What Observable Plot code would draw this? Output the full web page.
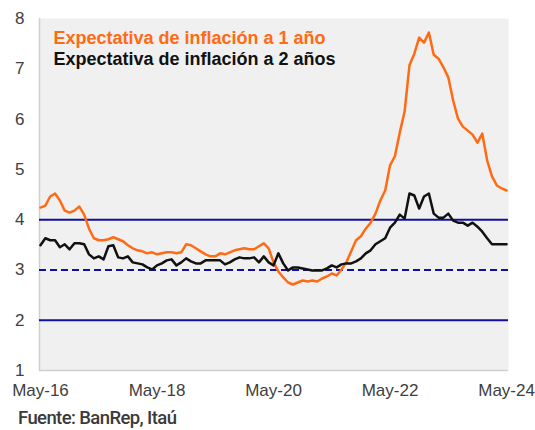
<!DOCTYPE html>
<html><head><meta charset="utf-8">
<script src="https://cdn.jsdelivr.net/npm/d3@7"></script>
<script src="https://cdn.jsdelivr.net/npm/@observablehq/plot@0.6"></script>
<style>
body{margin:0;background:#fff;font-family:"Liberation Sans",Arial,sans-serif}
#cap{font-family:Roboto,sans-serif;font-weight:500;font-size:18.5px;color:#3a3a3a;letter-spacing:-0.6px;margin:3px 0 0 18px;line-height:20px}
</style>
</head><body><div id="chart"></div><div id="cap">Fuente: BanRep, Itaú</div>
<script>
// Monthly observations, May-16 .. May-24 (index 0..96)
const oneYear = [
4.24,4.28,4.46,4.52,4.38,4.18,4.14,4.18,4.26,4.10,3.82,3.63,3.59,3.59,3.61,3.65,3.61,3.57,3.49,3.43,
3.39,3.37,3.33,3.35,3.31,3.33,3.35,3.35,3.33,3.35,3.51,3.49,3.43,3.37,3.31,3.27,3.27,3.33,3.31,3.35,
3.39,3.41,3.43,3.41,3.41,3.47,3.53,3.43,3.15,2.97,2.85,2.75,2.71,2.75,2.79,2.77,2.79,2.77,2.83,2.87,
2.93,2.89,3.01,3.15,3.37,3.59,3.67,3.82,3.94,4.12,4.38,4.58,5.08,5.26,5.73,6.15,7.07,7.30,7.62,7.52,
7.72,7.28,7.20,7.03,6.83,6.37,6.01,5.85,5.77,5.69,5.53,5.71,5.18,4.86,4.68,4.62,4.58];
const twoYears = [
3.49,3.63,3.59,3.59,3.45,3.51,3.41,3.53,3.53,3.51,3.31,3.23,3.27,3.21,3.47,3.49,3.25,3.23,3.27,3.15,
3.13,3.11,3.05,3.01,3.09,3.13,3.19,3.21,3.09,3.15,3.23,3.17,3.13,3.13,3.19,3.19,3.19,3.19,3.11,3.15,
3.21,3.25,3.23,3.23,3.25,3.15,3.27,3.15,3.09,3.33,3.13,2.99,3.05,3.05,3.03,3.01,2.99,2.99,2.99,3.03,
3.09,3.05,3.11,3.13,3.13,3.17,3.23,3.33,3.39,3.51,3.57,3.63,3.84,3.94,4.10,4.02,4.52,4.48,4.22,4.46,
4.52,4.12,4.04,4.04,4.12,3.98,3.94,3.94,3.88,3.94,3.86,3.76,3.63,3.51,3.51,3.51,3.51];
const tickIndex = [0, 24, 48, 72, 96];
const tickLabels = ["May-16", "May-18", "May-20", "May-22", "May-24"];
const yTicks = [1, 2, 3, 4, 5, 6, 7, 8];
const solidRefs = [2, 4];
const dashedRefs = [3];
const seriesNames = ["Expectativa de inflación a 1 año", "Expectativa de inflación a 2 años"];
const seriesColors = ["#ff6a13", "#111111"];

const rows1 = oneYear.map((v, i) => ({i, v}));
const rows2 = twoYears.map((v, i) => ({i, v}));

const chart = Plot.plot({
  width: 535, height: 405,
  marginTop: 18, marginBottom: 35, marginLeft: 39, marginRight: 27,
  style: {fontFamily: "'Liberation Sans', Arial, sans-serif", fontSize: "17px", color: "#404040", background: "#fff"},
  x: {domain: [-0.2, 96.4], ticks: tickIndex, tickFormat: (d) => tickLabels[tickIndex.indexOf(d)], tickSize: 0, tickPadding: 13, label: null},
  y: {domain: [1, 8], ticks: yTicks, tickFormat: (d) => String(d), tickSize: 0, tickPadding: 15, label: null},
  marks: [
    Plot.frame({fill: "#f0f0f0", stroke: null}),
    Plot.ruleX([-0.2], {stroke: "#cfcfcf", strokeWidth: 1.5}),
    Plot.ruleY([1], {stroke: "#cfcfcf", strokeWidth: 1.5}),
    Plot.ruleY(solidRefs, {stroke: "#10109c", strokeWidth: 2}),
    Plot.ruleY(dashedRefs, {stroke: "#10109c", strokeWidth: 2, strokeDasharray: "7,4"}),
    Plot.lineY(rows1, {x: "i", y: "v", stroke: seriesColors[0], strokeWidth: 2.5}),
    Plot.lineY(rows2, {x: "i", y: "v", stroke: seriesColors[1], strokeWidth: 2.5}),
    Plot.text([seriesNames[0]], {frameAnchor: "top-left", dx: 14, dy: 20, textAnchor: "start", lineAnchor: "middle", fill: seriesColors[0], fontWeight: "bold", fontSize: 18}),
    Plot.text([seriesNames[1]], {frameAnchor: "top-left", dx: 14, dy: 41, textAnchor: "start", lineAnchor: "middle", fill: seriesColors[1], fontWeight: "bold", fontSize: 18})
  ]
});
document.getElementById("chart").appendChild(chart);
</script>
</body></html>
